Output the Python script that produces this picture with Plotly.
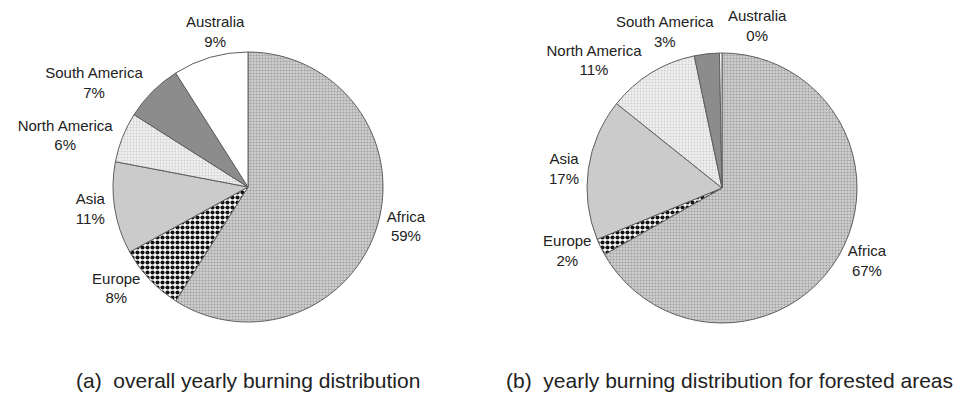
import plotly.graph_objects as go

regions = ["Africa", "Europe", "Asia", "North America", "South America", "Australia"]
overall_share = [59, 8, 11, 6, 7, 9]
forested_share = [67, 2, 17, 11, 3, 0.3]
captions = ["(a)  overall yearly burning distribution",
            "(b)  yearly burning distribution for forested areas"]

W, H = 965, 395
FONT = "Liberation Sans, Arial, sans-serif"
TXT = "#222222"

base_colors = ["#c8c8c8", "#ffffff", "#cbcbcb", "#ececec", "#8c8c8c", "#ffffff"]
pattern = dict(
    shape=[".", ".", "", ".", "", ""],
    fgcolor=["#a0a0a0", "#111111", "#cbcbcb", "#d0d0d0", "#8c8c8c", "#ffffff"],
    bgcolor=["#d0d0d0", "#ffffff", "#cbcbcb", "#f0f0f0", "#8c8c8c", "#ffffff"],
    size=[3, 5, 6, 3, 6, 6],
    solidity=[0.4, 0.55, 0.3, 0.3, 0.3, 0.3],
)


def px_dom(cx, cy, r):
    return dict(x=[(cx - r) / W, (cx + r) / W],
                y=[1 - (cy + r) / H, 1 - (cy - r) / H])


def label_text(i, shares):
    return f"{regions[i]}<br>{shares[i] / sum(shares):.0%}"


fig = go.Figure()
pies = [
    # shares, centre, labels placed by annotation (index -> paper px centre)
    (overall_share, (248, 187), {5: (215, 32)}),
    (forested_share, (722, 188), {4: (665, 32), 5: (757, 25)}),
]
for shares, (cx, cy), ann in pies:
    templates = ["" if i in ann else "%{label}<br>%{percent:.0%}" for i in range(len(regions))]
    fig.add_trace(go.Pie(
        labels=regions, values=shares, sort=False, direction="clockwise", rotation=0,
        textposition="outside", texttemplate=templates,
        textfont=dict(family=FONT, size=15, color=TXT),
        marker=dict(colors=base_colors, line=dict(color="#5e5e5e", width=1), pattern=pattern),
        domain=px_dom(cx, cy, 135), showlegend=False, hoverinfo="label+percent",
    ))
    for i, (ax, ay) in ann.items():
        fig.add_annotation(text=label_text(i, shares), x=ax / W, y=1 - ay / H,
                           xref="paper", yref="paper", showarrow=False,
                           xanchor="center", yanchor="middle",
                           font=dict(family=FONT, size=15, color=TXT))

for cap, cx in zip(captions, [248, 729]):
    fig.add_annotation(text=cap, x=cx / W, y=1 - 380 / H, xref="paper", yref="paper",
                       showarrow=False, xanchor="center", yanchor="middle",
                       font=dict(family=FONT, size=21, color=TXT))

fig.update_layout(width=W, height=H,
                  margin=dict(l=0, r=0, t=0, b=0, autoexpand=False),
                  paper_bgcolor="white", plot_bgcolor="white")
fig.write_html("out.html", config={"displayModeBar": False},
               post_script="document.body.style.margin='0';")
